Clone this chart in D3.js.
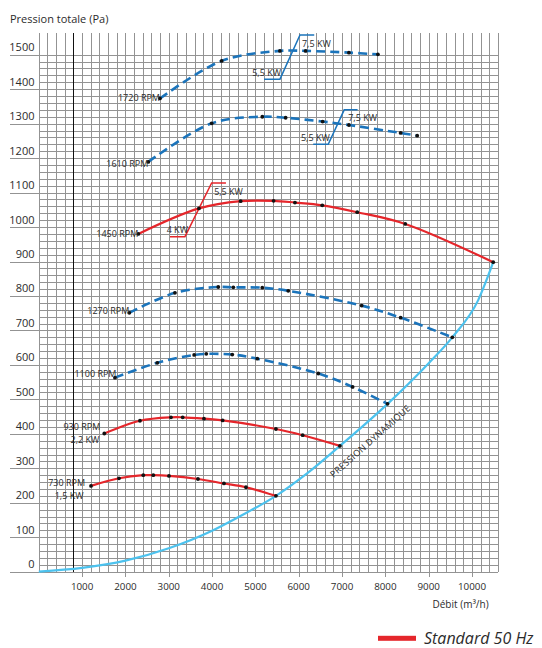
<!DOCTYPE html>
<html>
<head>
<meta charset="utf-8">
<script src="https://cdn.jsdelivr.net/npm/d3@7"></script>
<style>
  html, body { margin: 0; padding: 0; background: #fff; }
  svg { display: block; }
  text { font-family: "Open Sans", "Noto Sans", sans-serif; fill: #2b2b2b; }
</style>
</head>
<body>
<svg id="chart" width="542" height="648"></svg>
<script>
// ---------- DATA ----------
const flowTicks = [1000, 2000, 3000, 4000, 5000, 6000, 7000, 8000, 9000, 10000];
const pressureTicks = [0, 100, 200, 300, 400, 500, 600, 700, 800, 900, 1000, 1100, 1200, 1300, 1400, 1500];

// [débit m3/h, pression Pa]
const rpm730  = [[1205,249],[1851,271],[2412,280],[2643,280],[3005,278],[3674,269],[4274,256],[4782,245],[5474,220]];
const rpm930  = [[1512,401],[2335,438],[3051,448],[3321,448],[3813,444],[4244,439],[5474,414],[6090,396],[6951,365]];
const rpm1100 = [[1758,563],[2735,606],[3586,629],[3866,632],[4466,630],[5043,618],[6451,575],[7244,536],[8051,487]];
const rpm1270 = [[2089,751],[3143,809],[4143,826],[4490,825],[5159,824],[5758,815],[7452,772],[8352,737],[9545,680]];
const rpm1450 = [[2297,980],[3697,1054],[4659,1075],[5420,1076],[5913,1071],[6543,1063],[7351,1043],[8459,1009],[10490,898]];
const rpm1610 = [[2527,1189],[3990,1301],[5159,1320],[5698,1317],[6552,1306],[7159,1296],[8352,1273],[8735,1265]];
const rpm1720 = [[2797,1373],[4221,1482],[5566,1511],[6159,1511],[7159,1506],[7828,1501]];

const dynamicPressure = [[0,0],[1000,11],[2000,32],[3000,68],[4000,119],[4600,158],[5474,220],[6200,286],[6951,365],[8051,487],[9000,605],[9545,680],[10143,788],[10490,898]];

// power limit steps
const kw1720 = [[5198,1429],[5567,1429],[6029,1557],[6358,1557]];
const kw1610 = [[6335,1240],[6681,1240],[7050,1340],[7359,1340]];
const kw1450 = [[3028,972],[3374,972],[3990,1128],[4320,1128]];

const rpmLabels = ["730 RPM","930 RPM","1100 RPM","1270 RPM","1450 RPM","1610 RPM","1720 RPM"];
const kwLabels = ["1,5  KW","2,2  KW","4  KW","5,5  KW","7,5  KW"];

// ---------- LAYOUT ----------
const svg = d3.select("#chart");
const x = d3.scaleLinear().domain([0, 10600]).range([38.8, 498]);
const y = d3.scaleLinear().domain([0, 1500]).range([571.7, 54.7]);

const RED = "#e5262b", BLUE = "#1b74bb", CYAN = "#4cc2ee", GRID = "#939393";

// grid
const grid = svg.append("g").attr("shape-rendering", "crispEdges");
const xMinor = d3.range(0, 10601, 200);
grid.selectAll("line.v").data(xMinor).join("line")
  .attr("x1", d => Math.round(x(d)) + 0.5).attr("x2", d => Math.round(x(d)) + 0.5)
  .attr("y1", y(1562)).attr("y2", y(0))
  .attr("stroke", GRID).attr("stroke-width", 1);
const yMinor = d3.range(20, 1501, 20);
grid.selectAll("line.h").data(yMinor).join("line")
  .attr("x1", d => d % 100 === 0 ? 10 : x(0)).attr("x2", x(10600))
  .attr("y1", d => Math.round(y(d)) + 0.5).attr("y2", d => Math.round(y(d)) + 0.5)
  .attr("stroke", GRID).attr("stroke-width", 1);
// x axis baseline
grid.append("line").attr("x1", 10).attr("x2", x(10600))
  .attr("y1", Math.round(y(0)) + 0.5).attr("y2", Math.round(y(0)) + 0.5)
  .attr("stroke", GRID).attr("stroke-width", 1.2);
// x ticks
grid.selectAll("line.t").data(flowTicks).join("line")
  .attr("x1", d => Math.round(x(d)) + 0.5).attr("x2", d => Math.round(x(d)) + 0.5)
  .attr("y1", y(0)).attr("y2", y(0) + 5)
  .attr("stroke", GRID);
// black reference line
svg.append("line").attr("x1", Math.round(x(800)) + 0.5).attr("x2", Math.round(x(800)) + 0.5)
  .attr("y1", y(1562)).attr("y2", y(0))
  .attr("stroke", "#111").attr("stroke-width", 1).attr("shape-rendering", "crispEdges");

// axis labels
svg.append("g").selectAll("text").data(pressureTicks).join("text")
  .attr("x", 34.5).attr("y", d => y(d) - 3.5)
  .attr("text-anchor", "end").attr("font-size", 11).text(d => d);
svg.append("g").selectAll("text").data(flowTicks).join("text")
  .attr("x", d => x(d)).attr("y", 589.5)
  .attr("text-anchor", "middle").attr("font-size", 9.8).text(d => d);
svg.append("text").attr("x", 10).attr("y", 22.5).attr("font-size", 11).text("Pression totale (Pa)");
svg.append("text").attr("x", 432.5).attr("y", 608).attr("font-size", 10).text("Débit (m³/h)");

// dynamic pressure
const lineGen = d3.line().x(d => x(d[0])).y(d => y(d[1])).curve(d3.curveCatmullRom.alpha(0.5));
svg.append("path").datum(dynamicPressure).attr("d", d3.line().x(d => x(d[0])).y(d => y(d[1])).curve(d3.curveMonotoneX))
  .attr("fill", "none").attr("stroke", CYAN).attr("stroke-width", 2.2);
svg.append("text")
  .attr("transform", `translate(${x(7700)},${y(372)}) rotate(-41.5)`)
  .attr("text-anchor", "middle").attr("font-size", 9).attr("letter-spacing", 0.35)
  .text("PRESSION DYNAMIQUE");

// fan curves
const curves = [
  {pts: rpm730,  color: RED,  dashed: false},
  {pts: rpm930,  color: RED,  dashed: false},
  {pts: rpm1100, color: BLUE, dashed: true},
  {pts: rpm1270, color: BLUE, dashed: true},
  {pts: rpm1450, color: RED,  dashed: false},
  {pts: rpm1610, color: BLUE, dashed: true},
  {pts: rpm1720, color: BLUE, dashed: true}
];
curves.forEach(c => {
  svg.append("path").datum(c.pts).attr("d", lineGen)
    .attr("fill", "none").attr("stroke", c.color)
    .attr("stroke-width", c.dashed ? 2.6 : 2.2)
    .attr("stroke-dasharray", c.dashed ? "9,5" : null);
});

// power steps
[[kw1720, BLUE],[kw1610, BLUE],[kw1450, RED]].forEach(([pts, col]) => {
  svg.append("path").datum(pts).attr("d", d3.line().x(d => x(d[0])).y(d => y(d[1])))
    .attr("fill", "none").attr("stroke", col).attr("stroke-width", 1.5);
});

// dots
curves.forEach(c => {
  svg.append("g").selectAll("circle").data(c.pts).join("circle")
    .attr("cx", d => x(d[0])).attr("cy", d => y(d[1])).attr("r", 1.9).attr("fill", "#111");
});

// RPM labels (anchored to each curve's first point)
const labelOffsets = [[-6,0.5],[-4,-3],[1.5,-0.5],[0,1.5],[0,2.7],[0,5],[0,2.7]];
curves.forEach((c, i) => {
  const p = c.pts[0];
  svg.append("text").attr("x", x(p[0]) + labelOffsets[i][0]).attr("y", y(p[1]) + labelOffsets[i][1])
    .attr("text-anchor", "end").attr("font-size", 9).text(rpmLabels[i]);
});
// KW labels
const kwText = (t, xx, yy, anchor) => svg.append("text").attr("x", xx).attr("y", yy)
  .attr("text-anchor", anchor).attr("font-size", 9).text(t);
kwText(kwLabels[0], x(rpm730[0][0]) - 7.5, y(rpm730[0][1]) + 13.5, "end");
kwText(kwLabels[1], x(rpm930[0][0]) - 5, y(rpm930[0][1]) + 9.5, "end");
kwText(kwLabels[3], x(kw1720[1][0]) + 1, y(kw1720[1][1]) - 3, "end");
kwText(kwLabels[4], x(kw1720[2][0]) + 2, y(kw1720[2][1]) + 12, "start");
kwText(kwLabels[3], x(kw1610[1][0]) + 1.5, y(kw1610[1][1]) - 3.5, "end");
kwText(kwLabels[4], x(kw1610[2][0]) + 4, y(kw1610[2][1]) + 11, "start");
kwText(kwLabels[2], x(kw1450[1][0]) + 3, y(kw1450[1][1]) - 4, "end");
kwText(kwLabels[3], x(kw1450[2][0]) + 2.5, y(kw1450[2][1]) + 12.5, "start");

// legend
svg.append("rect").attr("x", 378).attr("y", 635.8).attr("width", 38).attr("height", 5).attr("fill", RED);
svg.append("text").attr("x", 424).attr("y", 643.5).attr("font-size", 16).attr("font-style", "italic")
  .text("Standard 50 Hz");
</script>
</body>
</html>
